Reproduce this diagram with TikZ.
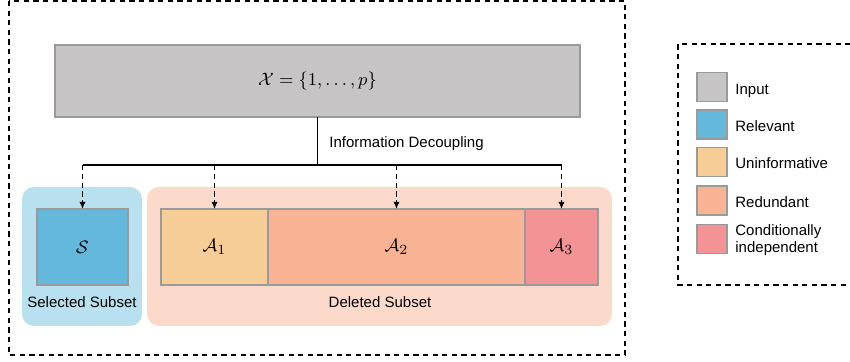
\documentclass[tikz,border=0pt]{standalone}
\usepackage{amsmath}
\usepackage{amssymb}
\usepackage{xcolor}
\usepackage{fontspec}
\setmainfont{Liberation Sans}
\usetikzlibrary{arrows.meta}

\definecolor{inputgray}{HTML}{C6C4C5}
\definecolor{relblue}{HTML}{64B8DB}
\definecolor{selbg}{HTML}{B8E0EE}
\definecolor{uninf}{HTML}{F6CD97}
\definecolor{redund}{HTML}{F8B394}
\definecolor{condind}{HTML}{F39396}
\definecolor{delbg}{HTML}{FCDACB}
\definecolor{edgegray}{HTML}{9A9A9A}

\tikzset{
  box/.style={draw=edgegray,line width=0.75pt,inner sep=0pt,outer sep=0pt},
  bgbox/.style={rounded corners=6pt,inner sep=0pt,outer sep=0pt},
  frame/.style={dash pattern=on 2.6pt off 2.2pt,line width=0.65pt},
  feed/.style={dash pattern=on 2.6pt off 1.8pt,line width=0.7pt,-{Latex[length=3.6pt,width=3.2pt]}},
  swatch/.style={box,minimum width=15pt,minimum height=14.5pt},
  txt/.style={font=\fontsize{7.5}{8.8}\selectfont,inner sep=0pt}
}

\begin{document}
\begin{tikzpicture}[x=0.5pt,y=-0.5pt]
     \useasboundingbox (0,0) rectangle (850,362);

     %outer frame
     \draw[frame] (9,1) rectangle (625,355);

     %input
     \node[box,fill=inputgray,minimum width=262.5pt,minimum height=36pt] (input) at (317.5,81)
        {\fontsize{9.5}{11}\selectfont $\mathcal{X}=\{1,\ldots,p\}$};

     %backgrounds
     \node[bgbox,fill=selbg,minimum width=60pt,minimum height=69.5pt] (selbg) at (82,256.5) {};
     \node[bgbox,fill=delbg,minimum width=232.5pt,minimum height=69.5pt] (delbg) at (379.5,256.5) {};

     %subsets
     \node[box,fill=relblue,minimum width=45.5pt,minimum height=38pt] (s) at (82.5,247)
        {\fontsize{9.5}{11}\selectfont $\mathcal{S}$};
     \node[box,fill=uninf,minimum width=53.5pt,minimum height=38pt] (a1) at (214.5,247)
        {\fontsize{9.5}{11}\selectfont $\mathcal{A}_1$};
     \node[box,fill=redund,minimum width=128.5pt,minimum height=38pt] (a2) at (396.5,247)
        {\fontsize{9.5}{11}\selectfont $\mathcal{A}_2$};
     \node[box,fill=condind,minimum width=36.5pt,minimum height=38pt] (a3) at (561.5,247)
        {\fontsize{9.5}{11}\selectfont $\mathcal{A}_3$};
     \node[txt] (sellab) at (82,302) {Selected Subset};
     \node[txt] (dellab) at (380,302) {Deleted Subset};

     %decoupling
     \coordinate (split) at (317.5,165);
     \node[txt,anchor=west] (declab) at (329,144) {Information Decoupling};
     \draw[line width=0.75pt] (input.south) -- (split);
     \draw[line width=0.75pt] (s.north |- split) -- (a3.north |- split);
     \draw[feed] (s.north |- split) -- (s.north);
     \draw[feed] (a1.north |- split) -- (a1.north);
     \draw[feed] (a2.north |- split) -- (a2.north);
     \draw[feed] (a3.north |- split) -- (a3.north);

     %legend
     \draw[frame] (860,44) -- (678,44) -- (678,285) -- (860,285);
     \node[swatch,fill=inputgray] (lin) at (712,87) {};
     \node[swatch,fill=relblue] (lrel) at (712,124.5) {};
     \node[swatch,fill=uninf] (lun) at (712,162) {};
     \node[swatch,fill=redund] (lred) at (712,200.5) {};
     \node[swatch,fill=condind] (lcon) at (712,239) {};
     \node[txt,anchor=west] at (735,91) {Input};
     \node[txt,anchor=west] at (735,126) {Relevant};
     \node[txt,anchor=west] at (735,163) {Uninformative};
     \node[txt,anchor=west] at (735,202) {Redundant};
     \node[txt,anchor=west,align=left] at (735,240) {Conditionally\\independent};

\end{tikzpicture}
\end{document}
